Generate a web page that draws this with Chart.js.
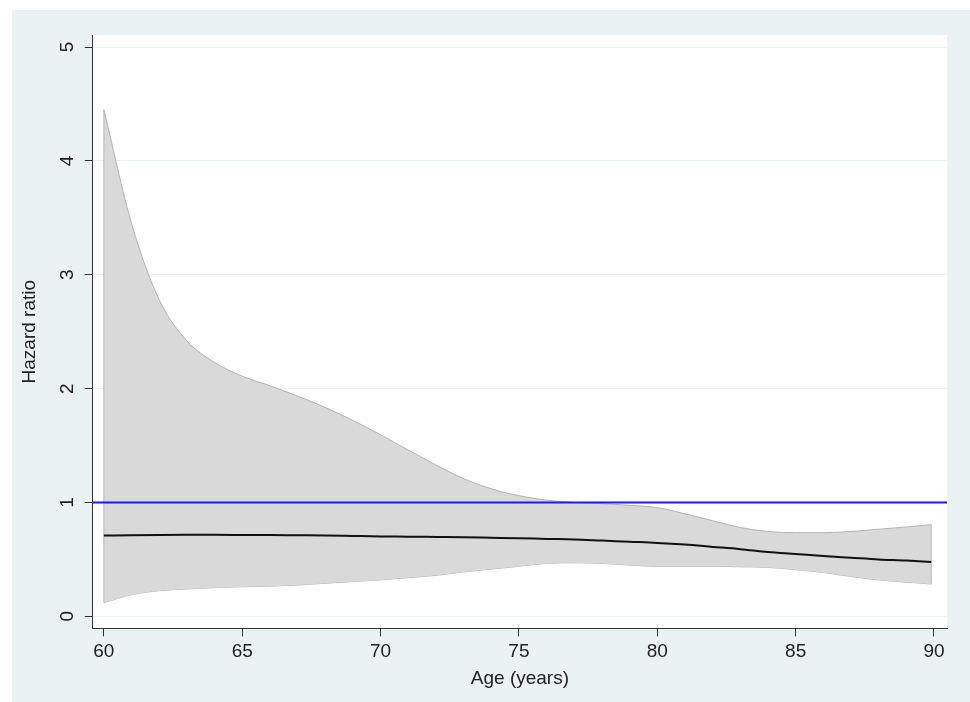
<!DOCTYPE html>
<html>
<head>
<meta charset="utf-8">
<script src="https://cdn.jsdelivr.net/npm/chart.js@4.4.1/dist/chart.umd.min.js"></script>
<style>
  html, body { margin: 0; padding: 0; background: #ffffff; }
  #wrap { width: 970px; height: 702px; }
</style>
</head>
<body>
<div id="wrap"><canvas id="hrChart" width="970" height="702"></canvas></div>
<script>
// values
const ages = [60, 61, 62, 63, 64, 65, 66, 67, 68, 69, 70, 71, 72, 73, 74, 75,
  76, 77, 78, 79, 80, 81, 82, 83, 84, 85, 86, 87, 88, 89, 89.9];
const hazardRatio = [0.71, 0.713, 0.715, 0.716, 0.716, 0.715, 0.714, 0.712, 0.71, 0.706, 0.702,
  0.70, 0.697, 0.694, 0.69, 0.686, 0.68, 0.675, 0.665, 0.655, 0.645, 0.63, 0.61, 0.59, 0.565,
  0.548, 0.53, 0.515, 0.50, 0.49, 0.478];
const upperCI = [4.45, 3.45, 2.78, 2.42, 2.23, 2.11, 2.025, 1.935, 1.835, 1.72, 1.595,
  1.46, 1.33, 1.21, 1.12, 1.06, 1.02, 1.0, 0.99, 0.975, 0.955, 0.90, 0.84, 0.78, 0.745,
  0.735, 0.735, 0.745, 0.765, 0.785, 0.805];
const lowerCI = [0.12, 0.19, 0.225, 0.24, 0.252, 0.26, 0.265, 0.275, 0.29, 0.305, 0.32,
  0.34, 0.36, 0.39, 0.415, 0.44, 0.465, 0.47, 0.465, 0.45, 0.44, 0.44, 0.44, 0.435, 0.43,
  0.41, 0.385, 0.35, 0.32, 0.30, 0.284];
const referenceHR = 1;

const xTicks = [60, 65, 70, 75, 80, 85, 90];
const yTicks = [0, 1, 2, 3, 4, 5];
const X_MIN = 59.6, X_MAX = 90.47;
const Y_MIN = -0.106, Y_MAX = 5.106;

const BG = "#eaf2f3";
const AXIS = "#333333";
const TEXT = "#222222";
const FONT = "'Liberation Sans', Arial, sans-serif";

const toPoints = (ys) => ages.map((a, i) => ({ x: a, y: ys[i] }));

// stata-like background: light outer region, white plot region
const backgroundPlugin = {
  id: "stataBackground",
  beforeDraw(chart) {
    const { ctx, chartArea } = chart;
    ctx.save();
    ctx.fillStyle = BG;
    ctx.fillRect(12, 10, chart.width - 12, chart.height - 10);
    ctx.fillStyle = "#ffffff";
    ctx.fillRect(chartArea.left, chartArea.top, chartArea.right - chartArea.left, chartArea.bottom - chartArea.top);
    ctx.restore();
  }
};

// close the band outline at both ends, and draw rotated y tick labels
const bandEdgesPlugin = {
  id: "bandEdges",
  afterDatasetDraw(chart, args) {
    if (args.index !== 2) return;
    const { ctx, scales: { x, y } } = chart;
    const last = ages.length - 1;
    ctx.save();
    ctx.strokeStyle = "#b4b4b4";
    ctx.lineWidth = 1;
    [0, last].forEach((i) => {
      const px = x.getPixelForValue(ages[i]);
      ctx.beginPath();
      ctx.moveTo(px, y.getPixelForValue(upperCI[i]));
      ctx.lineTo(px, y.getPixelForValue(lowerCI[i]));
      ctx.stroke();
    });
    ctx.restore();
  },
  afterDraw(chart) {
    const { ctx, scales: { y } } = chart;
    ctx.save();
    ctx.fillStyle = TEXT;
    ctx.font = "19px " + FONT;
    ctx.textAlign = "center";
    ctx.textBaseline = "middle";
    yTicks.forEach((v) => {
      ctx.save();
      ctx.translate(68, y.getPixelForValue(v));
      ctx.rotate(-Math.PI / 2);
      ctx.fillText(String(v), 0, 0);
      ctx.restore();
    });
    ctx.restore();
  }
};

const ctx = document.getElementById("hrChart");

new Chart(ctx, {
  type: "line",
  data: {
    datasets: [
      {
        label: "Reference",
        data: [{ x: X_MIN, y: referenceHR }, { x: X_MAX, y: referenceHR }],
        borderColor: "#1a1aff",
        borderWidth: 2,
        pointRadius: 0,
        fill: false,
        order: 0
      },
      {
        label: "Hazard ratio",
        data: toPoints(hazardRatio),
        borderColor: "#111111",
        borderWidth: 2,
        pointRadius: 0,
        cubicInterpolationMode: "monotone",
        fill: false,
        order: 1
      },
      {
        label: "Upper 95% CI",
        data: toPoints(upperCI),
        borderColor: "#b4b4b4",
        backgroundColor: "#d9d9d9",
        borderWidth: 1,
        pointRadius: 0,
        cubicInterpolationMode: "monotone",
        fill: 3,
        order: 2
      },
      {
        label: "Lower 95% CI",
        data: toPoints(lowerCI),
        borderColor: "#b4b4b4",
        borderWidth: 1,
        pointRadius: 0,
        cubicInterpolationMode: "monotone",
        fill: false,
        order: 3
      }
    ]
  },
  options: {
    responsive: false,
    animation: false,
    layout: { padding: { top: 35, right: 23, bottom: 0, left: 12 } },
    plugins: {
      legend: { display: false },
      tooltip: { enabled: false },
      filler: { propagate: false }
    },
    scales: {
      x: {
        type: "linear",
        min: X_MIN,
        max: X_MAX,
        afterBuildTicks: (scale) => { scale.ticks = xTicks.map((v) => ({ value: v })); },
        grid: { drawOnChartArea: false, drawTicks: true, tickLength: 8, tickColor: AXIS, tickWidth: 1 },
        border: { display: true, color: AXIS, width: 1 },
        ticks: {
          autoSkip: false,
          maxRotation: 0,
          padding: 4,
          color: TEXT,
          font: { family: FONT, size: 19 }
        },
        title: {
          display: true,
          text: "Age (years)",
          color: TEXT,
          font: { family: FONT, size: 19 },
          padding: { top: 0, bottom: 12 }
        }
      },
      y: {
        type: "linear",
        min: Y_MIN,
        max: Y_MAX,
        afterBuildTicks: (scale) => { scale.ticks = yTicks.map((v) => ({ value: v })); },
        grid: { color: BG, lineWidth: 1, drawTicks: true, tickLength: 8, tickColor: AXIS, tickWidth: 1 },
        border: { display: true, color: AXIS, width: 1 },
        ticks: { display: false },
        title: {
          display: true,
          text: "Hazard ratio",
          color: TEXT,
          font: { family: FONT, size: 19 },
          padding: { top: 6, bottom: 44 }
        }
      }
    }
  },
  plugins: [backgroundPlugin, bandEdgesPlugin]
});
</script>
</body>
</html>
